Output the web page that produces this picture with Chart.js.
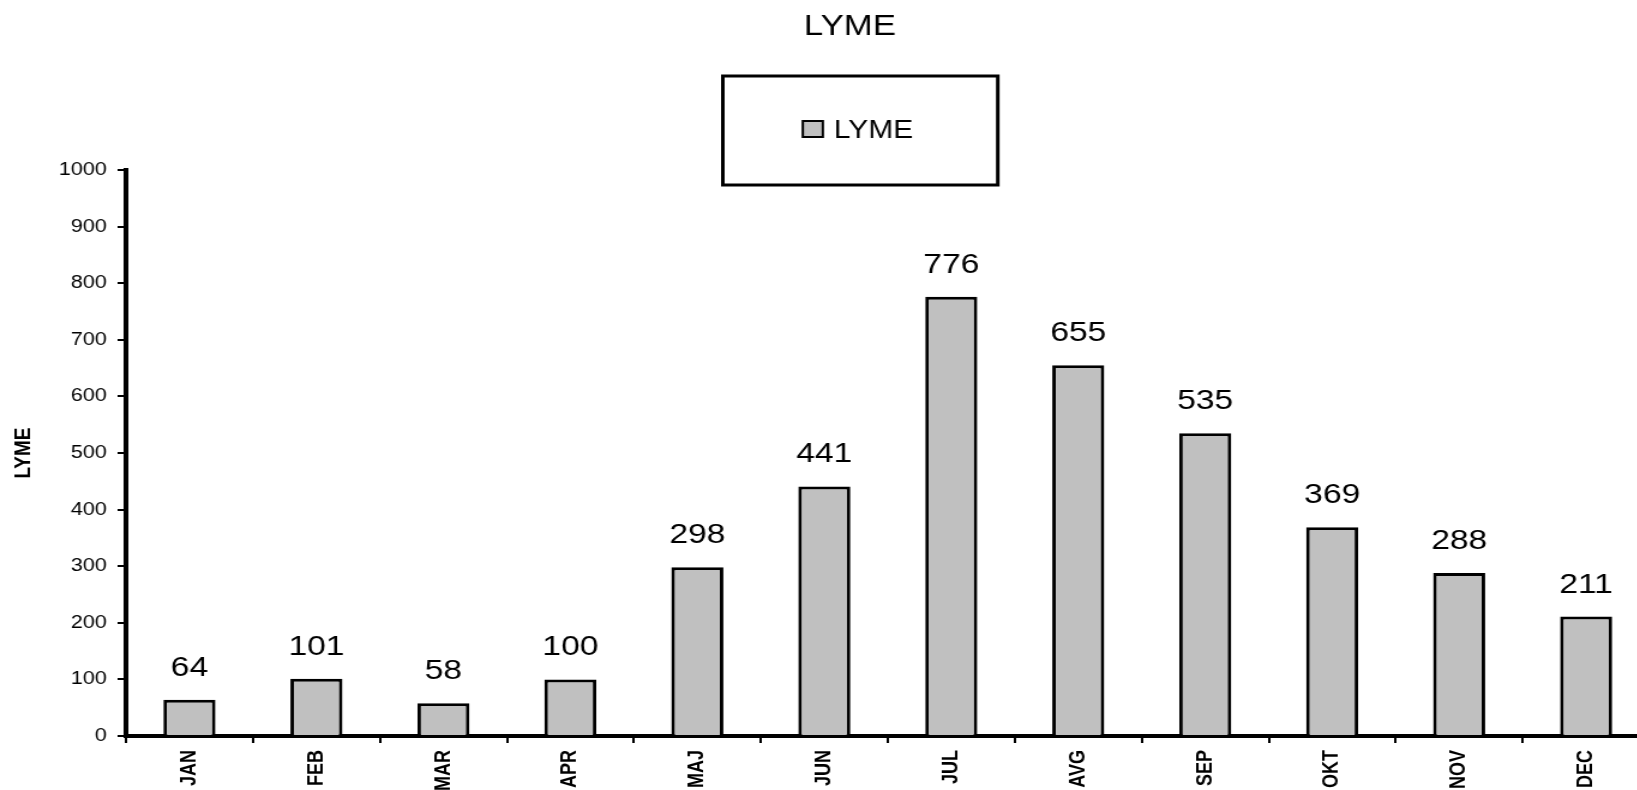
<!DOCTYPE html>
<html>
<head>
<meta charset="utf-8">
<script src="https://cdn.jsdelivr.net/npm/chart.js@4.4.0/dist/chart.umd.min.js"></script>
<style>
  html, body { margin: 0; padding: 0; background: #fff; overflow: hidden; }
  #mycanvas { display: block; }
</style>
</head>
<body>
<canvas id="mycanvas" width="1417" height="790" style="width:1700px;height:790px"></canvas>
<script>
// months and monthly cases
var months = ['JAN', 'FEB', 'MAR', 'APR', 'MAJ', 'JUN', 'JUL', 'AVG', 'SEP', 'OKT', 'NOV', 'DEC'];
var cases = [64, 101, 58, 100, 298, 441, 776, 655, 535, 369, 288, 211];
var yTicks = [0, 100, 200, 300, 400, 500, 600, 700, 800, 900, 1000];
var seriesName = 'LYME';

var FONT = '"Liberation Sans", Arial, sans-serif';
var SX = 1 / 1.2; // canvas is stretched horizontally by css

// value labels above the bars
var valueLabels = {
    id: 'valueLabels',
    afterDatasetsDraw: function (chart) {
        var ctx = chart.ctx;
        var meta = chart.getDatasetMeta(0);
        ctx.save();
        ctx.font = '28px ' + FONT;
        ctx.fillStyle = '#000';
        ctx.textAlign = 'center';
        ctx.textBaseline = 'alphabetic';
        meta.data.forEach(function (bar, i) {
            ctx.fillText(String(cases[i]), bar.x, bar.y - 24);
        });
        ctx.restore();
    }
};

// title + boxed legend like the old excel one
var boxLegend = {
    id: 'boxLegend',
    afterDraw: function (chart) {
        var ctx = chart.ctx;
        ctx.save();
        ctx.fillStyle = '#000';
        ctx.font = '29px ' + FONT;
        ctx.textAlign = 'center';
        ctx.textBaseline = 'alphabetic';
        ctx.fillText(seriesName, 850 * SX, 35);

        ctx.lineWidth = 3;
        ctx.strokeStyle = '#000';
        ctx.strokeRect(723 * SX, 76, 275 * SX, 109);
        ctx.fillStyle = '#c0c0c0';
        ctx.fillRect(803 * SX, 121, 20 * SX, 16);
        ctx.lineWidth = 2;
        ctx.strokeRect(803 * SX, 121, 20 * SX, 16);
        ctx.fillStyle = '#000';
        ctx.font = '25px ' + FONT;
        ctx.textAlign = 'left';
        ctx.fillText(seriesName, 834 * SX, 138);
        ctx.restore();
    }
};

var chartdata = {
    labels: months,
    datasets: [
        {
            label: seriesName,
            backgroundColor: '#c0c0c0',
            borderColor: '#000',
            borderWidth: 3,
            barPercentage: 0.41,
            categoryPercentage: 1,
            data: cases
        }
    ]
};

var ctx = document.getElementById('mycanvas');
var barGraph = new Chart(ctx, {
    type: 'bar',
    data: chartdata,
    plugins: [valueLabels, boxLegend],
    options: {
        responsive: false,
        devicePixelRatio: 1,
        animation: false,
        layout: { padding: { left: 0, right: 42, top: 170, bottom: 0 } },
        plugins: {
            legend: { display: false },
            tooltip: { enabled: false },
            title: { display: false }
        },
        scales: {
            x: {
                afterFit: function (s) { s.height = 54; },
                border: { display: true, color: '#000', width: 4 },
                grid: { drawOnChartArea: false, color: '#000', lineWidth: 2, tickLength: 7, offset: true },
                ticks: {
                    color: '#000',
                    minRotation: 90,
                    maxRotation: 90,
                    padding: 7,
                    font: { family: FONT, size: 18, weight: 'bold' }
                }
            },
            y: {
                min: 0,
                max: 1000,
                afterFit: function (s) { s.width = 105; },
                afterBuildTicks: function (s) {
                    s.ticks = yTicks.map(function (v) { return { value: v }; });
                },
                border: { display: true, color: '#000', width: 4 },
                grid: { drawOnChartArea: false, color: '#000', lineWidth: 2, tickLength: 7 },
                ticks: {
                    color: '#000',
                    padding: 9,
                    font: { family: FONT, size: 18 },
                    callback: function (v) { return String(v); }
                },
                title: {
                    display: true,
                    text: seriesName,
                    color: '#000',
                    font: { family: FONT, size: 19, weight: 'bold' },
                    padding: { top: 8.6, bottom: 0 }
                }
            }
        }
    }
});
</script>
</body>
</html>
